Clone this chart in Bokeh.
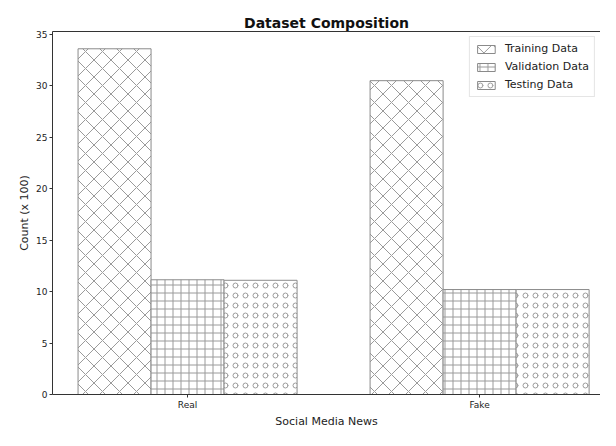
import numpy as np
from bokeh.plotting import figure
from bokeh.models import Range1d, LinearAxis, FixedTicker, Legend, LegendItem
from bokeh.embed import file_html
from bokeh.resources import INLINE

categories = ["Real", "Fake"]
series_names = ["Training Data", "Validation Data", "Testing Data"]
training = [33.6, 30.5]
validation = [11.15, 10.2]
testing = [11.1, 10.2]
y_ticks = [0, 5, 10, 15, 20, 25, 30, 35]

FONT = "DejaVu Sans"
GREY = "#8a8a8a"

p = figure(width=600, height=430, output_backend="svg", toolbar_location=None,
           x_range=Range1d(-0.4625, 1.414), y_range=Range1d(0, 35.28),
           min_border_left=52, min_border_right=0, min_border_top=31, min_border_bottom=35,
           title="Dataset Composition")
p.title.align = "center"
p.title.text_font = FONT
p.title.text_font_size = "14px"
p.title.text_font_style = "bold"
p.title.text_color = "#111111"
p.title.offset = 0
p.title.standoff = 2

p.xgrid.visible = False
p.ygrid.visible = False
p.outline_line_color = None

x = np.arange(len(categories))
offsets = [-0.25, 0.0, 0.25]
patterns = ["x", "+", "o"]
scales = [17, 8, 10]
data = [training, validation, testing]
renderers = []
for vals, off, pat, sc in zip(data, offsets, patterns, scales):
    r = p.vbar(x=x + off, top=vals, width=0.25, bottom=0,
               fill_color="white", line_color=GREY, line_width=1,
               hatch_pattern=pat, hatch_color="#9a9a9a", hatch_scale=sc, hatch_weight=1)
    renderers.append(r)

legend = Legend(items=[LegendItem(label=n, renderers=[r]) for n, r in zip(series_names, renderers)],
                location="top_right")
legend.label_text_font = FONT
legend.label_text_font_size = "11px"
legend.label_text_color = "#222222"
legend.glyph_width = 22
legend.glyph_height = 10
legend.spacing = 5
legend.padding = 5
legend.margin = 5
legend.label_standoff = 8
legend.border_line_color = "#cccccc"
legend.background_fill_alpha = 0.8
p.add_layout(legend)

# axes
p.xaxis.ticker = FixedTicker(ticks=list(x))
p.xaxis.major_label_overrides = {int(i): c for i, c in zip(x, categories)}
p.xaxis.axis_label = "Social Media News"
p.yaxis.ticker = FixedTicker(ticks=y_ticks)
p.yaxis.axis_label = "Count (x 100)"
for ax in (p.xaxis, p.yaxis):
    ax.axis_label_text_font = FONT
    ax.axis_label_text_font_size = "11px"
    ax.axis_label_text_font_style = "normal"
    ax.axis_label_text_color = "#222222"
    ax.major_label_text_font = FONT
    ax.major_label_text_font_size = "9px"
    ax.major_label_text_color = "#222222"
    ax.axis_line_color = "#333333"
    ax.major_tick_line_color = "#333333"
    ax.major_tick_out = 3
    ax.major_tick_in = 0
    ax.minor_tick_line_color = None
    ax.axis_label_standoff = 2
    ax.major_label_standoff = 2

top_axis = LinearAxis(major_tick_line_color=None, minor_tick_line_color=None,
                      major_label_text_font_size="0px", axis_line_color="#333333")
top_axis.ticker = FixedTicker(ticks=[])
p.add_layout(top_axis, "above")

open("out.html", "w").write(file_html(p, INLINE))
